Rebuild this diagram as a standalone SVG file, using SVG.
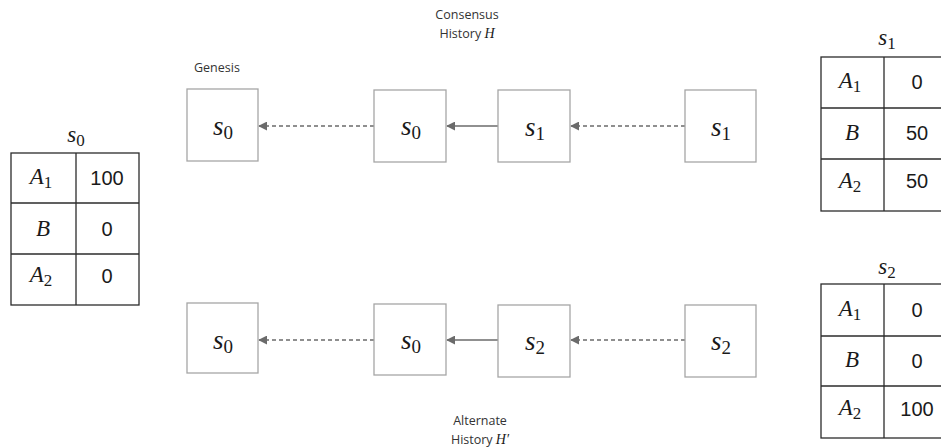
<svg xmlns="http://www.w3.org/2000/svg" width="941" height="448" viewBox="0 0 941 448">
<style>
.box{fill:#fff;stroke:#a6a6a6;stroke-width:1.3}
.tbl{fill:none;stroke:#2b2b2b;stroke-width:1.3}
.m{font-family:"Liberation Serif","DejaVu Serif",serif;font-style:italic;fill:#1a1a1a}
.sub{font-style:normal}
.lbl{font-family:"Open Sans","Liberation Sans",sans-serif;font-size:12.5px;fill:#333}
.num{font-family:"Liberation Sans",Arial,sans-serif;font-size:20px;fill:#1a1a1a;text-anchor:middle}
.bl{font-size:27px;text-anchor:middle}
.tl{font-size:23px;text-anchor:middle}
.conn{stroke:#6b6b6b;stroke-width:1.3;fill:none}
.dash{stroke-dasharray:4 3}
</style>
<defs>
<marker id="ah" viewBox="0 0 10 10" refX="9" refY="5" markerWidth="9" markerHeight="9" markerUnits="userSpaceOnUse" orient="auto">
<path d="M0,0 L10,5 L0,10 z" fill="#6b6b6b"/>
</marker>
</defs>

<g id="labels">
<text class="lbl" x="194" y="72">Genesis</text>
<text class="lbl" x="467" y="19" text-anchor="middle">Consensus</text>
<text class="lbl" x="467" y="38" text-anchor="middle">History <tspan class="m" font-size="14">H</tspan></text>
<text class="lbl" x="480" y="425" text-anchor="middle">Alternate</text>
<text class="lbl" x="480" y="444" text-anchor="middle">History <tspan class="m" font-size="14">H′</tspan></text>
</g>

<g id="connectors">
<line class="conn dash" x1="374" y1="126" x2="259" y2="126" marker-end="url(#ah)"/>
<line class="conn" x1="498" y1="126" x2="447" y2="126" marker-end="url(#ah)"/>
<line class="conn dash" x1="685" y1="126" x2="571" y2="126" marker-end="url(#ah)"/>
<line class="conn dash" x1="374" y1="340" x2="259" y2="340" marker-end="url(#ah)"/>
<line class="conn" x1="498" y1="340" x2="447" y2="340" marker-end="url(#ah)"/>
<line class="conn dash" x1="685" y1="340" x2="571" y2="340" marker-end="url(#ah)"/>
</g>

<g id="n-genesis-top">
<rect class="box" x="187" y="89" width="71" height="72"/>
<text class="m bl" x="223" y="135">s<tspan class="sub" font-size="19" dy="4">0</tspan></text>
</g>
<g id="n-s0-top">
<rect class="box" x="374" y="90" width="72" height="72"/>
<text class="m bl" x="411" y="135">s<tspan class="sub" font-size="19" dy="4">0</tspan></text>
</g>
<g id="n-s1-top">
<rect class="box" x="498" y="90" width="72" height="72"/>
<text class="m bl" x="535" y="136">s<tspan class="sub" font-size="19" dy="4">1</tspan></text>
</g>
<g id="n-s1-tip">
<rect class="box" x="685" y="90" width="71" height="72"/>
<text class="m bl" x="721" y="136">s<tspan class="sub" font-size="19" dy="4">1</tspan></text>
</g>

<g id="n-genesis-bot">
<rect class="box" x="187" y="303" width="71" height="70"/>
<text class="m bl" x="223" y="349">s<tspan class="sub" font-size="19" dy="4">0</tspan></text>
</g>
<g id="n-s0-bot">
<rect class="box" x="374" y="304" width="72" height="71"/>
<text class="m bl" x="411" y="349">s<tspan class="sub" font-size="19" dy="4">0</tspan></text>
</g>
<g id="n-s2-bot">
<rect class="box" x="498" y="305" width="72" height="72"/>
<text class="m bl" x="535" y="350">s<tspan class="sub" font-size="19" dy="4">2</tspan></text>
</g>
<g id="n-s2-tip">
<rect class="box" x="685" y="305" width="71" height="72"/>
<text class="m bl" x="721" y="350">s<tspan class="sub" font-size="19" dy="4">2</tspan></text>
</g>

<g id="table-s0">
<text class="m tl" x="76" y="142">s<tspan class="sub" font-size="17" dy="4">0</tspan></text>
<rect class="tbl" x="11" y="153" width="128" height="152"/>
<line class="tbl" x1="76" y1="153" x2="76" y2="305"/>
<line class="tbl" x1="11" y1="203" x2="139" y2="203"/>
<line class="tbl" x1="11" y1="254" x2="139" y2="254"/>
<text class="m tl" x="41" y="184">A<tspan class="sub" font-size="17" dy="4">1</tspan></text>
<text class="m tl" x="43" y="236">B</text>
<text class="m tl" x="41" y="282">A<tspan class="sub" font-size="17" dy="4">2</tspan></text>
<text class="num" x="107" y="185">100</text>
<text class="num" x="107" y="236">0</text>
<text class="num" x="107" y="283">0</text>
</g>

<g id="table-s1">
<text class="m tl" x="887" y="45">s<tspan class="sub" font-size="17" dy="4">1</tspan></text>
<rect class="tbl" x="821" y="57" width="130" height="154"/>
<line class="tbl" x1="884" y1="57" x2="884" y2="211"/>
<line class="tbl" x1="821" y1="108" x2="951" y2="108"/>
<line class="tbl" x1="821" y1="159" x2="951" y2="159"/>
<text class="m tl" x="850" y="88">A<tspan class="sub" font-size="17" dy="4">1</tspan></text>
<text class="m tl" x="852" y="140">B</text>
<text class="m tl" x="850" y="188">A<tspan class="sub" font-size="17" dy="4">2</tspan></text>
<text class="num" x="917" y="89">0</text>
<text class="num" x="917" y="140">50</text>
<text class="num" x="917" y="188">50</text>
</g>

<g id="table-s2">
<text class="m tl" x="887" y="274">s<tspan class="sub" font-size="17" dy="4">2</tspan></text>
<rect class="tbl" x="821" y="284" width="130" height="154"/>
<line class="tbl" x1="884" y1="284" x2="884" y2="438"/>
<line class="tbl" x1="821" y1="336" x2="951" y2="336"/>
<line class="tbl" x1="821" y1="386" x2="951" y2="386"/>
<text class="m tl" x="850" y="316">A<tspan class="sub" font-size="17" dy="4">1</tspan></text>
<text class="m tl" x="852" y="367">B</text>
<text class="m tl" x="850" y="415">A<tspan class="sub" font-size="17" dy="4">2</tspan></text>
<text class="num" x="917" y="317">0</text>
<text class="num" x="917" y="368">0</text>
<text class="num" x="917" y="416">100</text>
</g>
</svg>
